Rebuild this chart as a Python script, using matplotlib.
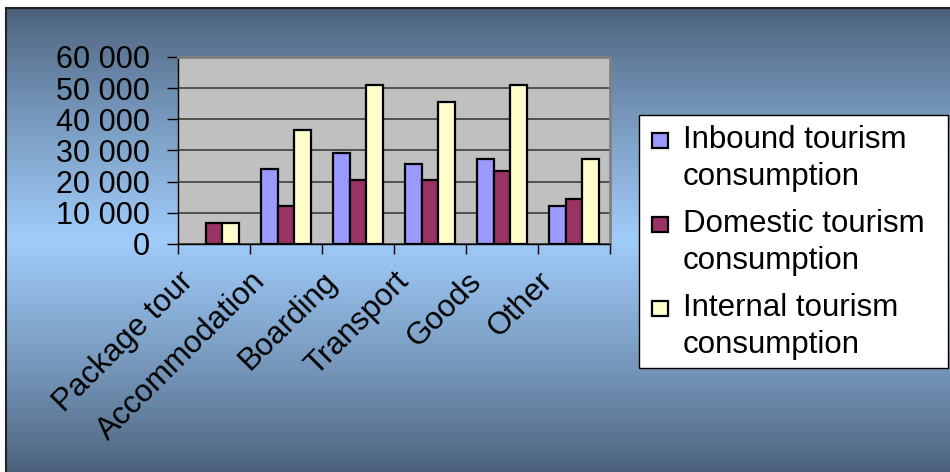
import matplotlib.pyplot as plt
import numpy as np
from matplotlib.ticker import FuncFormatter
from matplotlib.colors import to_rgb
from matplotlib.transforms import ScaledTranslation
from matplotlib.patches import Rectangle

plt.rcParams['font.family'] = ['Liberation Sans', 'DejaVu Sans']

categories = ["Package tour", "Accommodation", "Boarding", "Transport", "Goods", "Other"]
inbound = [0, 24200, 29300, 25600, 27200, 12300]
domestic = [6600, 12300, 20500, 20500, 23400, 14500]
internal = [6600, 36700, 50900, 45700, 50900, 27200]
series_names = ["Inbound tourism\nconsumption", "Domestic tourism\nconsumption",
                "Internal tourism\nconsumption"]
colors = ["#9999FF", "#993366", "#FFFFCC"]

W, H = 950, 472
fig = plt.figure(figsize=(W / 100, H / 100), dpi=100)
fig.patch.set_facecolor("white")


def fx(px):
    return px / W


def fy(py):
    return 1 - py / H


# background gradient (dark - light - dark), framed
bg = fig.add_axes([fx(6), 0, (W - 6) / W, (H - 8) / H], zorder=-5)
dark = np.array(to_rgb("#4A5F78"))
light = np.array(to_rgb("#A0CCFA"))
t = np.linspace(0, 1, 400)
f = (1 - np.abs(t - 0.5) / 0.5) ** 0.85
grad = dark[None, :] + (light - dark)[None, :] * f[:, None]
bg.imshow(np.repeat(grad[:, None, :], 2, axis=1), aspect="auto", extent=[0, 1, 0, 1])
bg.set_xticks([])
bg.set_yticks([])
for side in ["right", "bottom"]:
    bg.spines[side].set_visible(False)
for side in ["left", "top"]:
    bg.spines[side].set_color("#222222")
    bg.spines[side].set_linewidth(1.5)

# plot area
x0, x1 = 178, 610
y0, y1 = 57, 244
ax = fig.add_axes([fx(x0), fy(y1), (x1 - x0) / W, (y1 - y0) / H])
ax.set_facecolor("#C0C0C0")

x = np.arange(len(categories))
bw = 0.235
for i, (vals, c) in enumerate(zip([inbound, domestic, internal], colors)):
    bars = ax.bar(x + (i - 1) * bw, vals, width=bw, color=c, edgecolor="black",
                  linewidth=1.6, zorder=3)
    for b, v in zip(bars, vals):
        if v == 0:
            b.set_visible(False)

ax.set_xlim(-0.5, len(categories) - 0.5)
ax.set_ylim(0, 60000)
ax.set_yticks(np.arange(0, 60001, 10000))
ax.yaxis.set_major_formatter(FuncFormatter(lambda v, p: f"{int(v):,}".replace(",", " ")))
ax.grid(axis="y", color="#333333", linewidth=1.1, zorder=1)

ax.set_xticks(x)
ax.set_xticklabels(categories, rotation=45, ha="right", va="top", rotation_mode="anchor")
ax.set_xticks(np.arange(-0.5, len(categories)), minor=True)
ax.tick_params(axis="x", which="major", length=0, pad=16, labelsize=22.5)
ax.tick_params(axis="x", which="minor", length=7, width=1, color="black", direction="out")
ax.tick_params(axis="y", length=8, width=1, color="black", pad=12, labelsize=22)
shift = ScaledTranslation(-0.36, 0, fig.dpi_scale_trans)
for lbl in ax.get_xticklabels():
    lbl.set_transform(lbl.get_transform() + shift)

for side in ["top", "right"]:
    ax.spines[side].set_color("#808080")
    ax.spines[side].set_linewidth(2)
for side in ["left", "bottom"]:
    ax.spines[side].set_color("black")
    ax.spines[side].set_linewidth(1)

# legend box, handles next to the first line of each label
fig.patches.append(Rectangle((fx(639), fy(368)), fx(948) - fx(639), fy(115) - fy(368),
                             transform=fig.transFigure, facecolor="white",
                             edgecolor="black", linewidth=1, zorder=4))
for k, (name, c) in enumerate(zip(series_names, colors)):
    base = 148 + 84 * k
    fig.patches.append(Rectangle((fx(652), fy(base)), fx(668) - fx(652), fy(base - 15) - fy(base),
                                 transform=fig.transFigure, facecolor=c,
                                 edgecolor="black", linewidth=1.6, zorder=5))
    for j, line in enumerate(name.split("\n")):
        fig.text(fx(683), fy(base + 37 * j), line, fontsize=22.5, va="baseline",
                 ha="left", zorder=5)

fig.savefig("out.png", dpi=100, facecolor=fig.get_facecolor())
